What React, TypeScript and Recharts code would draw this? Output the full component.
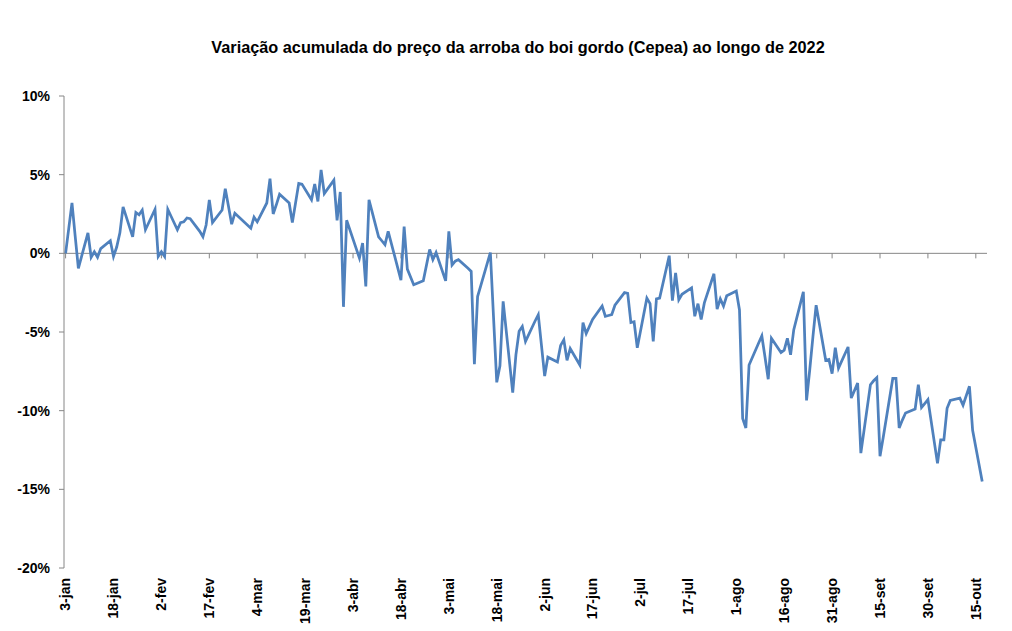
import React from 'react';
import { LineChart, Line, XAxis, YAxis, ReferenceLine } from 'recharts';

// Variação acumulada (%) do indicador do boi gordo Cepea, dias úteis de 2022
const datas = [
  '03/01', '04/01', '05/01', '06/01', '07/01', '10/01', '11/01', '12/01', '13/01', '14/01',
  '17/01', '18/01', '19/01', '20/01', '21/01', '24/01', '25/01', '26/01', '27/01', '28/01', '31/01',
  '01/02', '02/02', '03/02', '04/02', '07/02', '08/02', '09/02', '10/02', '11/02',
  '14/02', '15/02', '16/02', '17/02', '18/02', '21/02', '22/02', '23/02', '24/02', '25/02',
  '02/03', '03/03', '04/03', '07/03', '08/03', '09/03', '10/03', '11/03', '14/03', '15/03',
  '16/03', '17/03', '18/03', '21/03', '22/03', '23/03', '24/03', '25/03', '28/03', '29/03', '30/03', '31/03',
  '01/04', '04/04', '05/04', '06/04', '07/04', '08/04', '11/04', '12/04', '13/04', '14/04',
  '18/04', '19/04', '20/04', '22/04', '25/04', '26/04', '27/04', '28/04', '29/04',
  '02/05', '03/05', '04/05', '05/05', '06/05', '09/05', '10/05', '11/05', '12/05', '13/05',
  '16/05', '17/05', '18/05', '19/05', '20/05', '23/05', '24/05', '25/05', '26/05', '27/05', '30/05', '31/05',
  '01/06', '02/06', '03/06', '06/06', '07/06', '08/06', '09/06', '10/06', '13/06', '14/06', '15/06',
  '17/06', '20/06', '21/06', '22/06', '23/06', '24/06', '27/06', '28/06', '29/06', '30/06',
  '01/07', '04/07', '05/07', '06/07', '07/07', '08/07', '11/07', '12/07', '13/07', '14/07', '15/07',
  '18/07', '19/07', '20/07', '21/07', '22/07', '25/07', '26/07', '27/07', '28/07', '29/07',
  '01/08', '02/08', '03/08', '04/08', '05/08', '08/08', '09/08', '10/08', '11/08', '12/08',
  '15/08', '16/08', '17/08', '18/08', '19/08', '22/08', '23/08', '24/08', '25/08', '26/08',
  '29/08', '30/08', '31/08',
  '01/09', '02/09', '05/09', '06/09', '08/09', '09/09', '12/09', '13/09', '14/09', '15/09', '16/09',
  '19/09', '20/09', '21/09', '22/09', '23/09', '26/09', '27/09', '28/09', '29/09', '30/09',
  '03/10', '04/10', '05/10', '06/10', '07/10', '10/10', '11/10', '13/10', '14/10', '17/10',
];

const variacao = [
  0, 1.6, 3.2, 1.1, -0.95, 1.3, -0.25, 0.1, -0.25, 0.3,
  0.8, -0.2, 0.4, 1.3, 2.95, 1.05, 2.6, 2.45, 2.75, 1.5, 2.8,
  -0.2, 0.1, -0.2, 2.8, 1.5, 1.95, 2.0, 2.25, 2.2,
  1.4, 1.05, 1.8, 3.4, 1.95, 2.75, 4.1, 3.0, 1.85, 2.55,
  1.6, 2.3, 2.0, 3.2, 4.75, 2.5, 3.1, 3.75, 3.2, 1.95,
  3.2, 4.45, 4.4, 3.4, 4.4, 3.3, 5.3, 3.8, 4.65, 2.1, 3.9, -3.4,
  2.1, 0.3, -0.3, 0.65, -2.1, 3.4, 1.05, 0.8, 0.55, 1.4,
  -1.7, 1.7, -1.0, -2.0, -1.75, -0.75, 0.25, -0.4, 0.05,
  -1.75, 1.4, -0.75, -0.5, -0.4, -0.95, -1.15, -7.05, -2.75, -2.05,
  0.05, -4.1, -8.2, -7.15, -3.05, -8.85, -6.45, -4.95, -4.65, -5.6, -4.3, -3.9,
  -5.85, -7.8, -6.6, -6.9, -5.85, -5.5, -6.8, -6.05, -7.1, -4.4, -5.1,
  -4.2, -3.35, -4.0, -3.95, -3.9, -3.3, -2.5, -2.55, -4.4, -4.35,
  -6.0, -2.85, -3.2, -5.6, -2.9, -2.85, -0.15, -3.0, -1.25, -2.95, -2.6,
  -2.2, -4.0, -3.2, -4.2, -3.15, -1.3, -3.55, -2.9, -3.35, -2.7,
  -2.4, -3.6, -10.5, -11.1, -7.1, -5.7, -5.25, -6.6, -8.0, -5.4,
  -6.3, -6.15, -5.4, -6.45, -4.85, -2.45, -9.35, -7.4, -5.3, -3.3,
  -6.8, -6.75, -7.65,
  -6.0, -7.3, -5.95, -9.2, -8.25, -12.7, -8.35, -8.1, -7.9, -12.9, -11.7,
  -7.95, -7.95, -11.1, -10.6, -10.15, -9.9, -8.35, -9.8, -9.55, -9.3,
  -13.35, -11.85, -11.85, -9.85, -9.35, -9.2, -9.65, -8.45, -11.25, -14.5,
];

const rotulosX = [
  '3-jan', '18-jan', '2-fev', '17-fev', '4-mar', '19-mar', '3-abr', '18-abr', '3-mai', '18-mai',
  '2-jun', '17-jun', '2-jul', '17-jul', '1-ago', '16-ago', '31-ago', '15-set', '30-set', '15-out',
];
const ticksY = [-20, -15, -10, -5, 0, 5, 10];

const INICIO = Date.UTC(2022, 0, 3);
const DIA = 86400000;

// dias corridos desde 3-jan
const diaDoAno = (d: string) => {
  const [dd, mm] = d.split('/').map(Number);
  return Math.round((Date.UTC(2022, mm - 1, dd) - INICIO) / DIA);
};

const data = datas.map((d, i) => ({ dia: diaDoAno(d), valor: variacao[i] }));
const ticksX = rotulosX.map((_, i) => i * 15);

const FONTE = '"Liberation Sans", Arial, sans-serif';
const CINZA = '#868686';

const TickX = (props: any) => {
  const { x, y, payload } = props;
  const i = ticksX.indexOf(payload.value);
  return (
    <text
      x={x}
      y={y}
      transform={`rotate(-90, ${x}, ${y})`}
      textAnchor="end"
      dy="0.35em"
      fontFamily={FONTE}
      fontWeight="bold"
      fontSize={14}
      fill="#000"
    >
      {rotulosX[i]}
    </text>
  );
};

export default function App() {
  return (
    <div style={{ position: 'absolute', left: 0, top: 0, width: 1012, height: 631, background: '#fff' }}>
      <div
        style={{
          position: 'absolute',
          left: 0,
          width: 1036,
          top: 38,
          textAlign: 'center',
          fontFamily: FONTE,
          fontWeight: 'bold',
          fontSize: 16.3,
          color: '#000',
        }}
      >
        Variação acumulada do preço da arroba do boi gordo (Cepea) ao longo de 2022
      </div>
      <LineChart width={1012} height={631} data={data} margin={{ top: 96, right: 25, bottom: 13, left: 0 }}>
        <XAxis
          dataKey="dia"
          type="number"
          domain={[-0.5, 288.5]}
          ticks={ticksX}
          interval={0}
          axisLine={false}
          tickLine={false}
          tickMargin={4}
          height={50}
          tick={<TickX />}
        />
        <YAxis
          type="number"
          domain={[-20, 10]}
          ticks={ticksY}
          interval={0}
          width={64}
          tickFormatter={(v: number) => `${v}%`}
          axisLine={{ stroke: CINZA }}
          tickLine={{ stroke: CINZA }}
          tickSize={5}
          tickMargin={9}
          tick={{ fontFamily: FONTE, fontWeight: 'bold', fontSize: 14, fill: '#000' }}
        />
        <ReferenceLine y={0} stroke={CINZA} />
        {ticksX.map((t) => (
          <ReferenceLine
            key={t}
            segment={[
              { x: t, y: 0 },
              { x: t, y: -0.32 },
            ]}
            stroke={CINZA}
          />
        ))}
        <Line
          type="linear"
          dataKey="valor"
          stroke="#4F81BD"
          strokeWidth={2.75}
          dot={false}
          isAnimationActive={false}
        />
      </LineChart>
    </div>
  );
}
